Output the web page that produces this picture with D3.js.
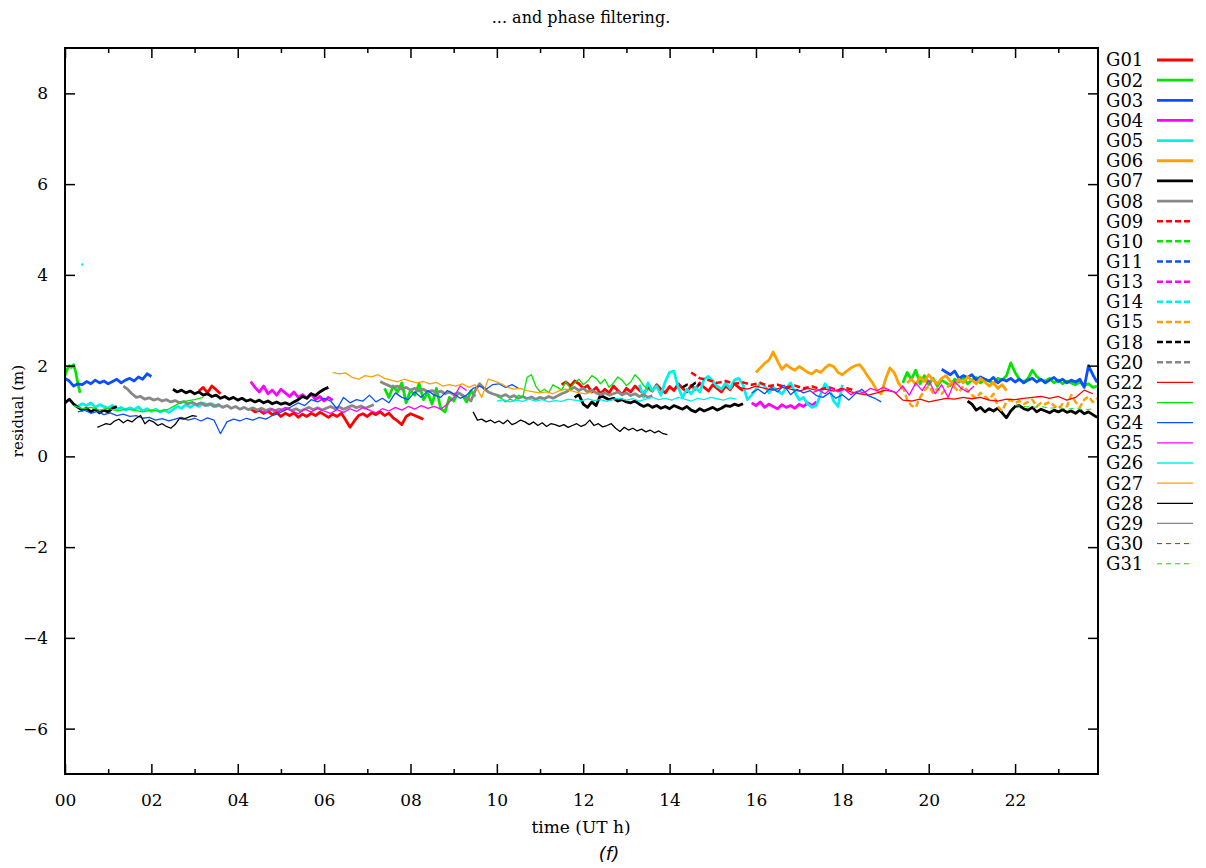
<!DOCTYPE html>
<html><head><meta charset="utf-8">
<script src="https://cdn.jsdelivr.net/npm/d3@7"></script>
<style>
html,body{margin:0;padding:0;background:#fff;}
svg{display:block;}
</style></head>
<body>
<svg id="chart" width="1206" height="868"></svg>
<script>
// ---------------- DATA ----------------
const title = "... and phase filtering.";
const xLabel = "time (UT h)";
const yLabel = "residual (m)";
const caption = "(f)";
const xTickValues = [0,2,4,6,8,10,12,14,16,18,20,22];
const xMinorTickValues = [1,3,5,7,9,11,13,15,17,19,21,23];
const yTickValues = [-6,-4,-2,0,2,4,6,8];
const seriesNames = ["G01","G02","G03","G04","G05","G06","G07","G08","G09","G10","G11","G13","G14","G15","G18","G20","G22","G23","G24","G25","G26","G27","G28","G29","G30","G31"];

// each series: list of segments {t0 (h), dt (h), v: residuals (m)}
const G01 = [
  {t0:3.1, dt:0.1, v:[1.44,1.52,1.40,1.55,1.47,1.38]},
  {t0:4.3, dt:0.1, v:[1.05,0.98,1.02,0.95,1.00,0.92,0.97,0.88,0.95,0.90,0.96,0.86,0.93,0.88,0.95,0.90,0.97,0.92,0.86,0.93,0.88,0.95,0.80,0.64,0.78,0.90,0.94,0.88,0.96,0.92,0.98,0.90,0.95,0.85,0.78,0.70,0.88,0.94,0.90,0.86,0.82]},
  {t0:11.5, dt:0.1, v:[1.58,1.64,1.55,1.66,1.60,1.50,1.56,1.42,1.52,1.38,1.48,1.40,1.55,1.45,1.36,1.50,1.42,1.55,1.46,1.38,1.52,1.44,1.58,1.48,1.40,1.54,1.45,1.60,1.50,1.42,1.56,1.48,1.62,1.52,1.44,1.58,1.50,1.42,1.55,1.47,1.60,1.52,1.45]}
];
const G02 = [
  {t0:0.0, dt:0.05, v:[1.78,1.92,2.00,1.96,2.02,1.85,1.60,1.40]},
  {t0:7.4, dt:0.1, v:[1.50,1.30,1.55,1.42,1.62,1.18,1.45,1.35,1.60,1.25,1.40,1.15,1.50,1.05,0.98,1.30,1.22,1.40,1.35,1.20,1.45,1.32]},
  {t0:19.4, dt:0.1, v:[1.62,1.85,1.70,1.90,1.60,1.78,1.58,1.72,1.55,1.68,1.62,1.56,1.70,1.64,1.75,1.60,1.68,1.74,1.62,1.70,1.66,1.60,1.72,1.68,1.78,2.06,1.85,1.70,1.64,1.72,1.90,1.76,1.68,1.66,1.72,1.62,1.68,1.60,1.66,1.62,1.58,1.64,1.56,1.60,1.52,1.55]}
];
const G03 = [
  {t0:0.0, dt:0.1, v:[1.72,1.66,1.55,1.60,1.58,1.65,1.60,1.68,1.62,1.66,1.60,1.65,1.70,1.62,1.68,1.72,1.66,1.75,1.70,1.82,1.76]},
  {t0:20.3, dt:0.1, v:[1.92,1.86,1.80,1.88,1.72,1.78,1.74,1.80,1.68,1.75,1.70,1.66,1.74,1.62,1.70,1.66,1.72,1.64,1.70,1.62,1.68,1.72,1.64,1.70,1.62,1.68,1.74,1.65,1.70,1.62,1.68,1.64,1.70,1.52,2.00,1.80,1.63]}
];
const G04 = [
  {t0:4.3, dt:0.1, v:[1.65,1.52,1.42,1.55,1.38,1.46,1.35,1.48,1.40,1.32,1.42,1.30,1.36,1.28,1.38,1.25,1.32,1.22,1.30,1.24]},
  {t0:15.9, dt:0.1, v:[1.18,1.12,1.20,1.08,1.15,1.10,1.05,1.14,1.08,1.12,1.06,1.15,1.10,1.18,1.12,1.20]}
];
const G05 = [
  {t0:0.3, dt:0.1, v:[1.10,1.16,1.12,1.18,1.08,1.14,1.10,1.06,1.12,1.04,1.08,1.02,1.07,1.03,1.09,1.00,1.05,0.99,1.04,0.98,1.02,0.97,1.03,1.10,1.06,1.14,1.08,1.15,1.10,1.18,1.12,1.16,1.10,1.14]},
  {t0:13.3, dt:0.1, v:[1.58,1.30,1.62,1.45,1.55,1.35,1.65,1.85,1.88,1.52,1.30,1.48,1.38,1.52,1.42,1.70,1.76,1.66,1.55,1.48,1.62,1.50,1.68,1.72,1.58,1.25,1.35,1.48,1.62,1.55,1.40,1.52,1.45,1.38,1.50,1.62,1.42,1.25,1.30,1.15,1.08,1.12,1.38,1.60,1.48,1.22,1.10,1.58]}
];
const G06 = [
  {t0:16.0, dt:0.1, v:[1.85,1.95,2.05,2.12,2.30,2.10,1.92,2.02,1.95,1.90,1.98,1.92,1.85,1.82,1.90,1.85,1.95,2.02,1.98,1.85,1.80,1.88,1.95,2.00,2.02,1.90,1.75,1.62,1.45,1.38,1.70,1.95,1.85,1.62,1.48]},
  {t0:19.5, dt:0.1, v:[1.62,1.70,1.58,1.75,1.65,1.80,1.68,1.60,1.72,1.78,1.66,1.58,1.70,1.62,1.75,1.68,1.60,1.72,1.64,1.55,1.62,1.50,1.58,1.45]}
];
const G07 = [
  {t0:0.0, dt:0.1, v:[1.18,1.26,1.15,1.08,1.02,1.06,0.98,1.04,0.96,1.02,0.98,1.06,1.10]},
  {t0:2.5, dt:0.1, v:[1.48,1.42,1.46,1.40,1.44,1.38,1.42,1.35,1.38,1.32,1.35,1.28,1.32,1.26,1.30,1.24,1.28,1.22,1.25,1.20,1.24,1.18,1.22,1.16,1.20,1.15,1.18,1.14,1.20,1.25,1.32,1.28,1.38,1.34,1.42,1.48,1.52]},
  {t0:11.8, dt:0.1, v:[1.30,1.36,1.15,1.08,1.20,1.12,1.35,1.30,1.25,1.28,1.22,1.25,1.20,1.18,1.22,1.15,1.10,1.14,1.08,1.12,1.06,1.10,1.05,1.12,1.08,1.04,1.10,1.02,0.98,1.05,1.00,1.04,1.08,1.02,1.06,1.12,1.10,1.15,1.12,1.16]},
  {t0:20.9, dt:0.1, v:[1.22,1.15,1.02,1.08,0.98,1.05,1.00,1.06,0.96,0.85,1.00,1.10,1.12,1.05,1.02,1.08,0.98,1.04,1.00,0.96,1.02,0.98,1.03,0.97,1.00,0.95,1.02,0.94,0.98,0.92,0.86]}
];
const G08 = [
  {t0:1.35, dt:0.1, v:[1.55,1.48,1.38,1.30,1.32,1.26,1.29,1.24,1.27,1.22,1.25,1.20,1.23,1.18,1.21,1.16,1.19,1.14,1.18,1.12,1.16,1.10,1.14,1.08,1.12,1.06,1.10,1.04,1.08,1.03,1.07,1.02,1.06,1.01,1.05,1.00,1.04,1.02,1.06,1.01,1.05,1.00,1.04,1.08,1.03,1.07,1.02,1.06,1.10,1.05,1.09,1.04,1.08,1.12,1.07,1.11,1.06,1.10,1.14]},
  {t0:7.3, dt:0.1, v:[1.65,1.60,1.56,1.52,1.55,1.48,1.52,1.46,1.50,1.44,1.48,1.42,1.45,1.40,1.44,1.38,1.42,1.36,1.40,1.35,1.30,1.22,1.45,1.60,1.50,1.42,1.38,1.35,1.32,1.36,1.30,1.34,1.28,1.32,1.27,1.31,1.26,1.30,1.27,1.32,1.28,1.33,1.38,1.42,1.48,1.52,1.45,1.50,1.42,1.46,1.40,1.36,1.40,1.35,1.38,1.42,1.36,1.40,1.34,1.38,1.32,1.36,1.30,1.34]}
];
const G09 = [
  {t0:14.5, dt:0.2, v:[1.85,1.72,1.68,1.62,1.66,1.60,1.63,1.58,1.62,1.55,1.58,1.52,1.56,1.50,1.54,1.48,1.52,1.46,1.50,1.45]}
];
const G10 = [];
const G11 = [];
const G13 = [];
const G14 = [
  {t0:0.38, dt:0.04, v:[4.24,4.22]}
];
const G15 = [
  {t0:19.4, dt:0.1, v:[1.55,1.25,1.12,1.08,1.30,1.45,1.55,1.40,1.50,1.38,1.48,1.60,1.52,1.42,1.55,1.45,1.35,1.28,1.40,1.32,1.25,1.38,1.10,1.00,1.20,1.25,1.18,1.22,1.15,1.20,1.25,1.10,1.18,1.15,1.20,1.12,1.05,1.15,1.10,1.35,1.20,1.08,1.25,1.32,1.20,1.28]}
];
const G18 = [
  {t0:14.3, dt:0.1, v:[1.52,1.58,1.55,1.62,1.57]}
];
const G20 = [];
const G22 = [
  {t0:15.6, dt:0.2, v:[1.52,1.48,1.55,1.50,1.46,1.52,1.48,1.44,1.50,1.46,1.48,1.44,1.50,1.42,1.38,1.35,1.40,1.46,1.42,1.24,1.22,1.26,1.20,1.24,1.28,1.26,1.30,1.27,1.30,1.24,1.22,1.26,1.25,1.28,1.30,1.32,1.28,1.32,1.24,1.30,1.46,1.38]}
];
const G23 = [
  {t0:0.2, dt:0.2, v:[1.12,1.05,1.08,1.02,1.06,1.00,1.04,1.02,0.98,1.02,0.99,1.04,1.15,1.22,1.25,1.30]},
  {t0:10.0, dt:0.1, v:[1.32,1.28,1.20,1.26,1.22,1.35,1.30,1.74,1.80,1.55,1.42,1.48,1.40,1.58,1.52,1.46,1.65,1.50,1.62,1.70,1.58,1.66,1.78,1.72,1.60,1.70,1.52,1.62,1.75,1.68,1.56,1.64,1.80,1.70,1.56,1.48,1.42]}
];
const G24 = [
  {t0:0.3, dt:0.15, v:[0.98,1.02,0.95,0.99,0.92,0.96,0.90,0.93,0.88,0.90,0.84,0.86,0.80,0.83,0.78,0.82,0.86,0.80,0.84,0.78,0.85,0.80,0.50,0.76,0.82,0.78,0.84,0.80,0.86,0.82,0.90,0.95,1.02,1.10,1.18,1.12,1.25,1.20,1.28,1.22,1.05,1.30,1.18,1.25,1.22,1.35,1.20,1.28,1.18,1.40,1.30,1.25,1.42,1.30,1.45,1.35,1.30,1.45,1.38,1.28,1.35,1.50,1.55,1.48,1.58,1.60,1.52,1.58,1.50]},
  {t0:15.9, dt:0.15, v:[1.40,1.48,1.38,1.52,1.42,1.57,1.36,1.48,1.40,1.45,1.34,1.30,1.40,1.28,1.36,1.24,1.38,1.48,1.34,1.28,1.20]}
];
const G25 = [
  {t0:4.5, dt:0.15, v:[1.02,0.96,1.05,0.98,1.08,1.00,0.94,1.04,0.98,1.06,1.00,0.95,1.03,0.97,1.05,0.99,1.08,1.02,0.96,1.05,1.00,1.08,1.02,1.10,1.04,1.12,1.06,1.10,1.04,1.15,1.30,1.55,1.45]},
  {t0:17.3, dt:0.15, v:[1.40,1.46,1.38,1.50,1.42,1.48,1.36,1.44,1.40,1.50,1.45,1.52,1.46,1.40,1.55,1.35,1.62,1.45,1.68,1.38,1.58,1.30,1.65,1.50,1.42,1.55]}
];
const G26 = [
  {t0:10.0, dt:0.15, v:[1.22,1.25,1.20,1.24,1.21,1.26,1.22,1.25,1.20,1.23,1.21,1.26,1.24,1.22,1.27,1.23,1.25,1.21,1.26,1.28,1.24,1.27,1.22,1.26,1.30,1.25,1.28,1.24,1.30,1.26,1.22,1.28,1.25,1.30,1.27,1.24,1.29,1.26]}
];
const G27 = [
  {t0:6.2, dt:0.15, v:[1.85,1.82,1.84,1.74,1.70,1.78,1.75,1.80,1.72,1.68,1.64,1.70,1.66,1.62,1.65,1.60,1.63,1.55,1.58,1.55,1.60,1.52,1.58,1.30,1.70,1.66,1.60,1.52,1.48,1.50,1.45,1.42,1.40,1.42,1.38,1.45,1.48,1.44,1.40,1.38,1.42]}
];
const G28 = [
  {t0:0.75, dt:0.1, v:[0.64,0.68,0.72,0.70,0.78,0.82,0.74,0.80,0.76,0.84,0.90,0.72,0.80,0.76,0.68,0.72,0.66,0.62,0.70,0.84,0.82,0.86,0.90,0.88]},
  {t0:9.45, dt:0.1, v:[0.98,0.80,0.82,0.76,0.80,0.74,0.78,0.72,0.80,0.70,0.74,0.80,0.76,0.70,0.76,0.68,0.74,0.66,0.72,0.70,0.66,0.70,0.64,0.68,0.72,0.66,0.70,0.80,0.68,0.72,0.65,0.68,0.72,0.62,0.55,0.64,0.58,0.62,0.56,0.60,0.54,0.58,0.52,0.56,0.50,0.48]}
];
const G29 = [];
const G30 = [];
const G31 = [
  {t0:22.0, dt:0.2, v:[1.12,1.10,1.08,1.10,1.06,1.08,1.04,1.06,1.02,1.05]}
];
const seriesData = {G01,G02,G03,G04,G05,G06,G07,G08,G09,G10,G11,G13,G14,G15,G18,G20,G22,G23,G24,G25,G26,G27,G28,G29,G30,G31};

// ---------------- STYLES ----------------
const colorOf = {
  G01:"#ff0000",G02:"#00e600",G03:"#0a50ff",G04:"#ff00ff",G05:"#00f0f0",G06:"#ffa000",G07:"#000000",G08:"#888888",
  G09:"#ff0000",G10:"#00e600",G11:"#0a50ff",G13:"#ff00ff",G14:"#00f0f0",G15:"#ffa000",G18:"#000000",G20:"#888888",
  G22:"#ff0000",G23:"#00e600",G24:"#0a50ff",G25:"#ff00ff",G26:"#00f0f0",G27:"#ffa000",G28:"#000000",G29:"#888888",
  G30:"#ff0000",G31:"#00e600"
};
function styleOf(name){
  const i = seriesNames.indexOf(name);
  if (i < 8) return {w:2.8, dash:null};
  if (i < 16) return {w:2.5, dash:"6,3"};
  if (i < 24) return {w:1.3, dash:null};
  return {w:1.0, dash:"5,4"};
}

// ---------------- DRAW ----------------
const svg = d3.select("#chart");
const L = 65, R = 1098, T = 48, B = 774;
const x = d3.scaleLinear().domain([0, 23.92]).range([L, R]);
const y = d3.scaleLinear().domain([-7, 9]).range([B, T]);
const serif = "'DejaVu Serif', serif";

svg.append("text").attr("x", 581).attr("y", 23).attr("text-anchor","middle")
  .attr("font-family", serif).attr("font-size", 16).text(title);

svg.append("defs").append("clipPath").attr("id","clip")
  .append("rect").attr("x",L).attr("y",T).attr("width",R-L).attr("height",B-T);

const plot = svg.append("g").attr("clip-path","url(#clip)");
const line = d3.line().x(d => x(d[0])).y(d => y(d[1]));
seriesNames.forEach(name => {
  const st = styleOf(name);
  seriesData[name].forEach(seg => {
    const pts = seg.v.map((v,i) => [seg.t0 + i*seg.dt, v]);
    plot.append("path").datum(pts).attr("d", line)
      .attr("fill","none").attr("stroke", colorOf[name])
      .attr("stroke-width", st.w).attr("stroke-linejoin","round")
      .attr("stroke-dasharray", st.dash);
  });
});

// axes
const fmtX = d3.format("02d");
function styleAxis(g){ g.select(".domain").remove(); g.selectAll("line").attr("stroke","#000").attr("stroke-width",1.5); g.selectAll("text").attr("font-family",serif).attr("font-size",17).attr("fill","#000"); }
svg.append("g").attr("transform",`translate(0,${B})`)
  .call(d3.axisBottom(x).tickValues(xTickValues).tickFormat(fmtX).tickSize(-10).tickPadding(20)).call(styleAxis);
svg.append("g").attr("transform",`translate(0,${B})`)
  .call(d3.axisBottom(x).tickValues(xMinorTickValues).tickFormat("").tickSize(-5)).call(styleAxis);
svg.append("g").attr("transform",`translate(0,${T})`)
  .call(d3.axisTop(x).tickValues(xTickValues).tickFormat("").tickSize(-10)).call(styleAxis);
svg.append("g").attr("transform",`translate(0,${T})`)
  .call(d3.axisTop(x).tickValues(xMinorTickValues).tickFormat("").tickSize(-5)).call(styleAxis);
svg.append("g").attr("transform",`translate(${L},0)`)
  .call(d3.axisLeft(y).tickValues(yTickValues).tickSize(-10).tickPadding(17)).call(styleAxis);
svg.append("g").attr("transform",`translate(${R},0)`)
  .call(d3.axisRight(y).tickValues(yTickValues).tickFormat("").tickSize(-10)).call(styleAxis);

svg.append("rect").attr("x",L).attr("y",T).attr("width",R-L).attr("height",B-T)
  .attr("fill","none").attr("stroke","#000").attr("stroke-width",2);

svg.append("text").attr("x",581).attr("y",833).attr("text-anchor","middle")
  .attr("font-family",serif).attr("font-size",17).text(xLabel);
svg.append("text").attr("transform","translate(23,411) rotate(-90)").attr("text-anchor","middle")
  .attr("font-family",serif).attr("font-size",15).text(yLabel);
svg.append("text").attr("x",609).attr("y",860).attr("text-anchor","middle")
  .attr("font-family","'DejaVu Sans', sans-serif").attr("font-style","italic").attr("font-size",18).text(caption);

// legend
const leg = svg.append("g");
seriesNames.forEach((name,i) => {
  const yy = 60 + i*20.15;
  const st = styleOf(name);
  leg.append("text").attr("x",1106).attr("y",yy).attr("dy","0.36em")
    .attr("font-family",serif).attr("font-size",18).text(name);
  leg.append("line").attr("x1",1157).attr("x2",1193).attr("y1",yy).attr("y2",yy)
    .attr("stroke",colorOf[name]).attr("stroke-width",st.w).attr("stroke-dasharray",st.dash);
});
</script>
</body></html>
